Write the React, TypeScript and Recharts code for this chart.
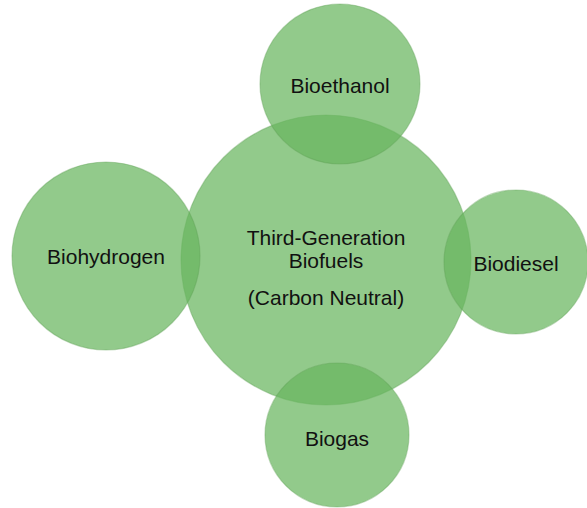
import { ScatterChart, Scatter, XAxis, YAxis, ZAxis } from 'recharts';

// diagram nodes, in page units (0..587 across, 0..508 down)
const names = ['Third-Generation Biofuels', 'Bioethanol', 'Biohydrogen', 'Biodiesel', 'Biogas'];
const centerX = [326, 340, 106, 516, 337];
const centerY = [260, 84, 256, 262, 435];
const radius = [145, 80, 94, 72, 72];
const labelLines = [
  ['Third-Generation', 'Biofuels', '(Carbon Neutral)'],
  ['Bioethanol'],
  ['Biohydrogen'],
  ['Biodiesel'],
  ['Biogas'],
];
// vertical offsets (px) of each label line from the circle centre
const lineOffsets = [[-23, 0, 37], [1], [0], [1], [3]];

const W = 587;
const H = 508;

const nodes = names.map((name, i) => ({
  name,
  x: centerX[i],
  y: centerY[i],
  area: Math.PI * radius[i] * radius[i],
  r: radius[i],
  lines: labelLines[i],
  offsets: lineOffsets[i],
}));

const maxArea = Math.max(...nodes.map((n) => n.area));

// eslint-disable-next-line @typescript-eslint/no-explicit-any
function Bubble(props: any) {
  const { cx, cy, payload, width } = props;
  const r = width ? width / 2 : payload.r;
  return (
    <g>
      <circle
        cx={cx}
        cy={cy}
        r={r}
        fill="rgb(104, 182, 94)"
        fillOpacity={0.72}
        stroke="rgb(96, 160, 86)"
        strokeOpacity={0.4}
        strokeWidth={1.2}
      />
      {payload.lines.map((line: string, j: number) => (
        <text
          key={line}
          x={cx}
          y={cy + payload.offsets[j]}
          textAnchor="middle"
          dominantBaseline="central"
          fontFamily="'Liberation Sans', Arial, sans-serif"
          fontSize={21}
          fill="#111"
        >
          {line}
        </text>
      ))}
    </g>
  );
}

export default function App() {
  return (
    <div style={{ position: 'absolute', left: 0, top: 0, width: W, height: H, background: '#fff' }}>
      <ScatterChart width={W} height={H} margin={{ top: 0, right: 0, bottom: 0, left: 0 }}>
        <XAxis type="number" dataKey="x" domain={[0, W]} hide />
        <YAxis type="number" dataKey="y" domain={[0, H]} reversed hide />
        <ZAxis type="number" dataKey="area" domain={[0, maxArea]} range={[0, maxArea]} />
        <Scatter data={nodes} shape={Bubble} isAnimationActive={false} />
      </ScatterChart>
    </div>
  );
}
